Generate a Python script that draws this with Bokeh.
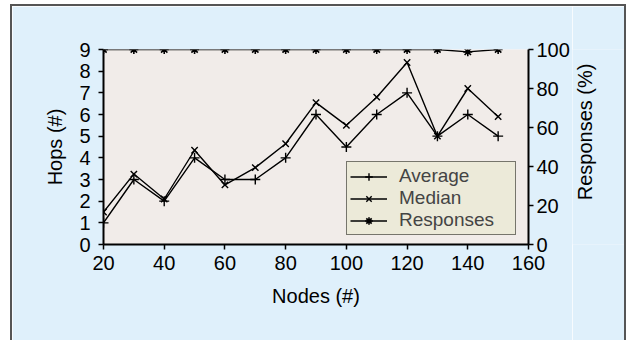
import math
from bokeh.plotting import figure
from bokeh.models import LinearAxis, Range1d, FixedTicker, Spacer, Legend, Label
from bokeh.layouts import column, row
from bokeh.embed import file_html
from bokeh.resources import INLINE

nodes = [20, 30, 40, 50, 60, 70, 80, 90, 100, 110, 120, 130, 140, 150]
average = [1, 3, 2, 4, 3, 3, 4, 6, 4.5, 6, 7, 5, 6, 5]
median = [1.5, 3.25, 2.1, 4.35, 2.75, 3.55, 4.65, 6.55, 5.5, 6.8, 8.4, 5.0, 7.2, 5.9]
responses = [100, 100, 100, 100, 100, 100, 100, 100, 100, 100, 100, 100, 98.8, 100]

x_ticks = [20, 40, 60, 80, 100, 120, 140, 160]
left_ticks = [0, 1, 2, 3, 4, 5, 6, 7, 8, 9]
right_ticks = [0, 20, 40, 60, 80, 100]

FONT = "Liberation Sans"
FS = "20px"
PANEL = "#dff0fb"
EDGE = "2px solid #555555"

p = figure(width=562, height=336, output_backend="svg", toolbar_location=None,
           x_range=Range1d(20, 160), y_range=Range1d(0, 9),
           min_border_left=91, min_border_right=46, min_border_top=43,
           min_border_bottom=98, background_fill_color="#f1ece9",
           border_fill_color=PANEL, outline_line_color=None)
p.styles = {"border-left": EDGE, "border-top": EDGE}
p.extra_y_ranges = {"right": Range1d(0, 100)}
p.xgrid.visible = False
p.ygrid.visible = False

p.xaxis.ticker = FixedTicker(ticks=x_ticks)
p.yaxis.ticker = FixedTicker(ticks=left_ticks)
p.xaxis.axis_label = "Nodes (#)"
p.yaxis.axis_label = "Hops (#)"

ra = LinearAxis(y_range_name="right", ticker=FixedTicker(ticks=right_ticks))
p.add_layout(ra, "right")

for ax in [p.xaxis[0], p.yaxis[0], ra]:
    ax.axis_line_width = 2
    ax.axis_line_color = "black"
    ax.major_tick_line_width = 1.5
    ax.major_tick_out = 5
    ax.major_tick_in = 0
    ax.minor_tick_line_color = None
    ax.major_label_text_font = FONT
    ax.major_label_text_font_size = FS
    ax.major_label_text_color = "black"
    ax.axis_label_text_font = FONT
    ax.axis_label_text_font_size = FS
    ax.axis_label_text_font_style = "normal"
    ax.axis_label_text_color = "black"
p.yaxis[0].major_label_standoff = 8
p.yaxis[0].axis_label_standoff = 10
p.xaxis[0].major_label_standoff = 6
p.xaxis[0].axis_label_standoff = 12
ra.major_label_standoff = 3

lw = 1.4
r1 = p.line(nodes, average, line_color="black", line_width=lw)
s1 = p.scatter(nodes, average, marker="cross", size=10, line_color="black", line_width=1.4)
r2 = p.line(nodes, median, line_color="black", line_width=lw)
s2 = p.scatter(nodes, median, marker="x", size=9, line_color="black", line_width=1.4)
r3 = p.line(nodes, responses, line_color="black", line_width=lw, y_range_name="right")
s3 = p.scatter(nodes, responses, marker="asterisk", size=9, line_color="black",
               line_width=1.6, y_range_name="right")

legend = Legend(items=[("Average", [r1, s1]), ("Median", [r2, s2]), ("Responses", [r3, s3])],
                location=(243, 9))
legend.background_fill_color = "#ecead9"
legend.background_fill_alpha = 1
legend.border_line_color = "black"
legend.border_line_width = 1
legend.label_text_font = FONT
legend.label_text_font_size = "19px"
legend.label_height = 19
legend.label_width = 113
legend.glyph_height = 19
legend.glyph_width = 37
legend.spacing = 0
legend.padding = 3
legend.margin = 0
legend.label_standoff = 12
p.add_layout(legend, "center")

# narrow strip to the right carrying the right-axis title (reads bottom-to-top)
p2 = figure(width=54, height=336, output_backend="svg", toolbar_location=None,
            x_range=Range1d(0, 54), y_range=Range1d(0, 336),
            x_axis_type=None, y_axis_type=None,
            min_border_left=0, min_border_right=0, min_border_top=0, min_border_bottom=0,
            background_fill_color=PANEL, border_fill_color=PANEL, outline_line_color=None)
p2.styles = {"border-top": EDGE, "border-right": EDGE}
p2.add_layout(Label(x=12, y=194, text="Responses (%)", angle=math.pi / 2,
                    text_align="center", text_baseline="middle",
                    text_font=FONT, text_font_size=FS, text_color="black"))

layout = column(Spacer(height=4), row(Spacer(width=10), p, p2))
layout.styles = {"background-color": "white"}

open("out.html", "w").write(file_html(layout, INLINE))
